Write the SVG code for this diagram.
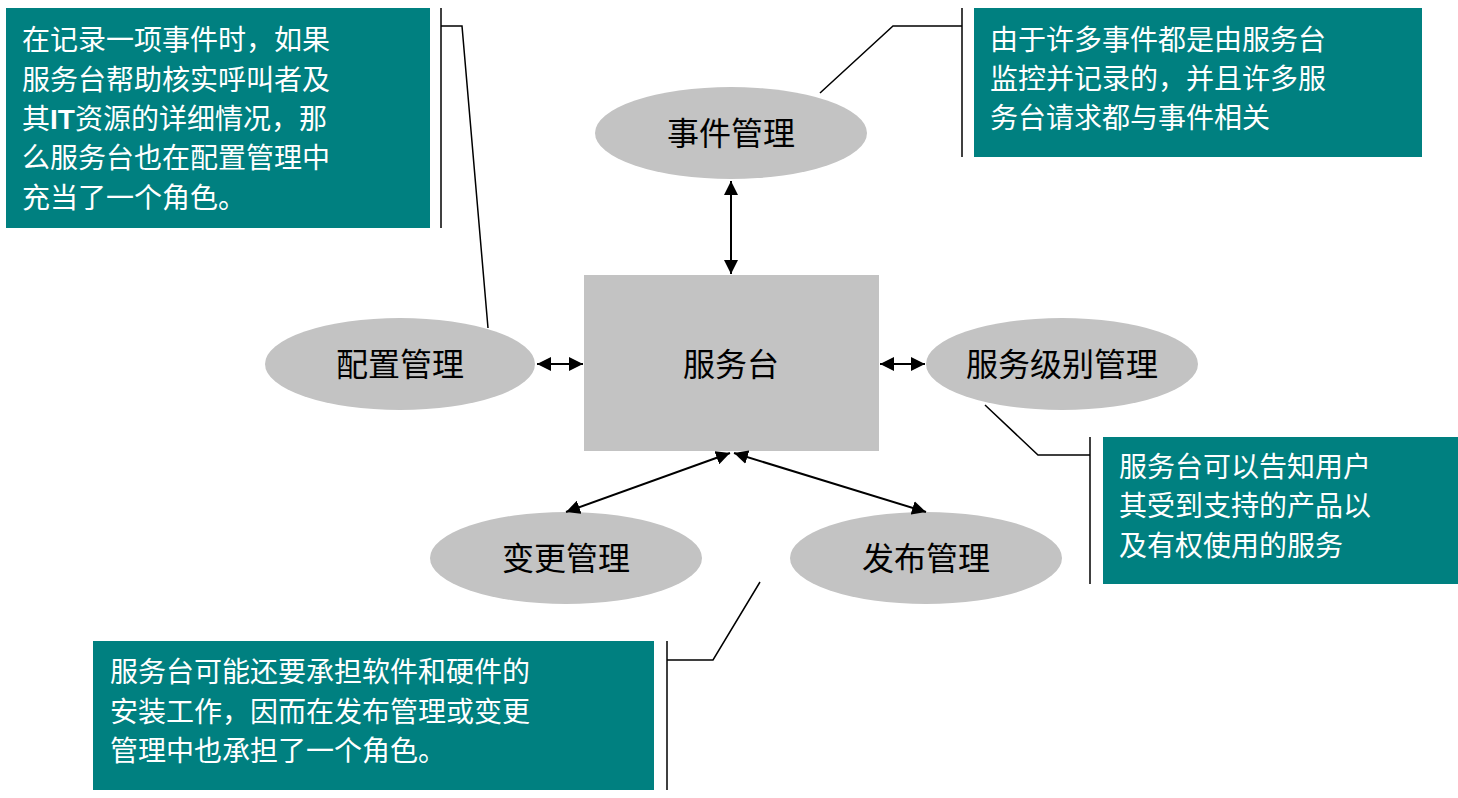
<svg xmlns="http://www.w3.org/2000/svg" width="1458" height="798" viewBox="0 0 1458 798">
<style>
.n{fill:#c3c3c3}
.t{font-family:"Liberation Sans","Noto Sans CJK SC",sans-serif;font-size:32px;fill:#000;text-anchor:middle}
.b{fill:#008080}
.bt{font-family:"Liberation Sans","Noto Sans CJK SC",sans-serif;font-size:28px;fill:#fff}
.c{stroke:#000;stroke-width:2;fill:none}
.l{stroke:#000;stroke-width:1.5;fill:none}
</style>
<defs><marker id="a" viewBox="0 0 10 10" refX="10" refY="5" markerWidth="7" markerHeight="7" orient="auto-start-reverse"><path d="M0,0L10,5L0,10z"/></marker></defs>
<rect width="1458" height="798" fill="#fff"/>
<g id="desk"><rect class="n" x="584" y="275" width="295" height="176"/><text class="t" x="731" y="376">服务台</text></g>
<g id="incident"><ellipse class="n" cx="731" cy="133" rx="136" ry="46"/><text class="t" x="731" y="145">事件管理</text></g>
<g id="config"><ellipse class="n" cx="400" cy="364" rx="135" ry="46"/><text class="t" x="400" y="376">配置管理</text></g>
<g id="slm"><ellipse class="n" cx="1062" cy="364" rx="136" ry="46"/><text class="t" x="1062" y="376">服务级别管理</text></g>
<g id="change"><ellipse class="n" cx="566" cy="558" rx="136" ry="46"/><text class="t" x="566" y="570">变更管理</text></g>
<g id="release"><ellipse class="n" cx="926" cy="558" rx="136" ry="46"/><text class="t" x="926" y="570">发布管理</text></g>
<g id="connectors">
<line class="c" x1="731" y1="181" x2="731" y2="274" marker-start="url(#a)" marker-end="url(#a)"/>
<line class="c" x1="537" y1="364" x2="583" y2="364" marker-start="url(#a)" marker-end="url(#a)"/>
<line class="c" x1="880" y1="364" x2="925" y2="364" marker-start="url(#a)" marker-end="url(#a)"/>
<line class="c" x1="730" y1="453" x2="566" y2="512" marker-start="url(#a)" marker-end="url(#a)"/>
<line class="c" x1="734" y1="453" x2="926" y2="512" marker-start="url(#a)" marker-end="url(#a)"/>
<polyline class="l" points="441,8 441,228"/><polyline class="l" points="441,26 462,26 488,328"/>
<polyline class="l" points="962,8 962,157"/><polyline class="l" points="962,26 893,26 820,93"/>
<polyline class="l" points="1090,437 1090,584"/><polyline class="l" points="1090,455 1038,455 985,405"/>
<polyline class="l" points="667,641 667,790"/><polyline class="l" points="667,660 713,660 760,582"/>
</g>
<g id="note1"><rect class="b" x="6" y="8" width="424" height="220"/>
<text class="bt" x="22"><tspan x="22" y="50">在记录一项事件时，如果</tspan><tspan x="22" y="90">服务台帮助核实呼叫者及</tspan><tspan x="22" y="129">其<tspan font-weight="bold">IT</tspan>资源的详细情况，那</tspan><tspan x="22" y="168">么服务台也在配置管理中</tspan><tspan x="22" y="208">充当了一个角色。</tspan></text></g>
<g id="note2"><rect class="b" x="974" y="8" width="448" height="149"/>
<text class="bt"><tspan x="990" y="50">由于许多事件都是由服务台</tspan><tspan x="990" y="89">监控并记录的，并且许多服</tspan><tspan x="990" y="128">务台请求都与事件相关</tspan></text></g>
<g id="note3"><rect class="b" x="1103" y="437" width="355" height="147"/>
<text class="bt"><tspan x="1119" y="477">服务台可以告知用户</tspan><tspan x="1119" y="516">其受到支持的产品以</tspan><tspan x="1119" y="556">及有权使用的服务</tspan></text></g>
<g id="note4"><rect class="b" x="93" y="641" width="561" height="149"/>
<text class="bt"><tspan x="110" y="682">服务台可能还要承担软件和硬件的</tspan><tspan x="110" y="722">安装工作，因而在发布管理或变更</tspan><tspan x="110" y="761">管理中也承担了一个角色。</tspan></text></g>
</svg>
